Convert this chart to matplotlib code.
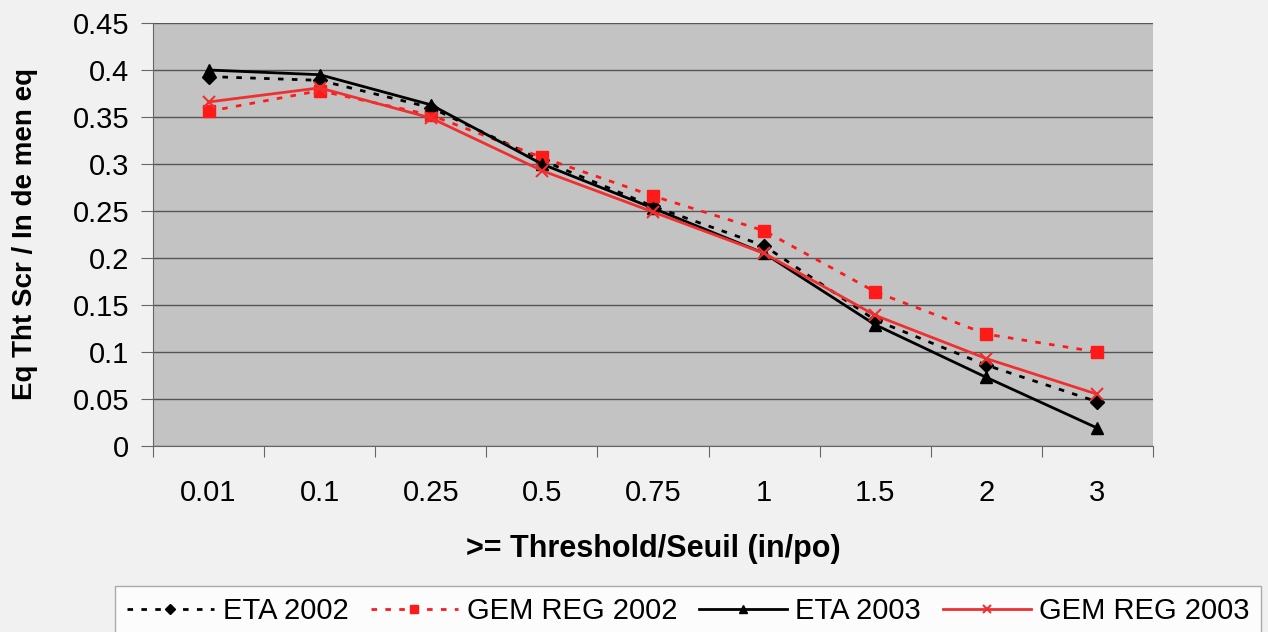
import matplotlib
matplotlib.use("Agg")
import matplotlib.pyplot as plt
import numpy as np

categories = ["0.01", "0.1", "0.25", "0.5", "0.75", "1", "1.5", "2", "3"]
eta_2002 = [0.393, 0.389, 0.360, 0.304, 0.255, 0.213, 0.134, 0.086, 0.047]
gem_2002 = [0.356, 0.378, 0.352, 0.307, 0.266, 0.229, 0.164, 0.119, 0.100]
eta_2003 = [0.400, 0.395, 0.363, 0.300, 0.253, 0.205, 0.129, 0.073, 0.019]
gem_2003 = [0.366, 0.381, 0.349, 0.293, 0.249, 0.205, 0.139, 0.093, 0.055]
y_ticks = [0, 0.05, 0.1, 0.15, 0.2, 0.25, 0.3, 0.35, 0.4, 0.45]
y_tick_labels = ["0", "0.05", "0.1", "0.15", "0.2", "0.25", "0.3", "0.35", "0.4", "0.45"]

plt.rcParams['font.family'] = ['Liberation Sans', 'DejaVu Sans']

fig = plt.figure(figsize=(12.68, 6.32), dpi=100, facecolor="#f1f1f1")
ax = fig.add_axes([153/1268, 1 - 446/632, 1000/1268, (446-23)/632])
ax.set_facecolor("#c3c3c3")

x = np.arange(len(categories))
ax.plot(x, eta_2002, color="black", linestyle=(0, (2, 3)), linewidth=2,
        marker="D", markersize=7, label="ETA 2002", zorder=4)
ax.plot(x, gem_2002, color="#ff1a1a", linestyle=(0, (2, 3)), linewidth=2,
        marker="s", markersize=9, label="GEM REG 2002", zorder=4)
ax.plot(x, eta_2003, color="black", linestyle="-", linewidth=2,
        marker="^", markersize=8, label="ETA 2003", zorder=5)
ax.plot(x, gem_2003, color="#f03030", linestyle="-", linewidth=2,
        marker="x", markersize=8, markeredgewidth=1.5, label="GEM REG 2003", zorder=5)

ax.set_xlim(-0.5, len(categories) - 0.5)
ax.set_ylim(0, 0.45)
ax.set_yticks(y_ticks)
ax.set_yticklabels(y_tick_labels, fontsize=21)
ax.yaxis.grid(True, color="#555555", linewidth=1)
ax.set_axisbelow(True)

ax.set_xticks(np.arange(len(categories) + 1) - 0.5)
ax.set_xticklabels([])
ax.set_xticks(x, minor=True)
ax.set_xticklabels(categories, minor=True, fontsize=21)
ax.tick_params(axis="x", which="minor", length=0, pad=24)
ax.tick_params(axis="x", which="major", length=8, direction="out", color="#666666")
ax.tick_params(axis="y", length=9, direction="out", color="#666666", pad=8)

for s in ["top", "right"]:
    ax.spines[s].set_visible(False)
for s in ["left", "bottom"]:
    ax.spines[s].set_color("#666666")

ax.set_xlabel(">= Threshold/Seuil (in/po)", fontsize=22, fontweight="bold", labelpad=19)
ax.set_ylabel("Eq Tht Scr / In de men eq", fontsize=20, fontweight="bold", labelpad=25)

leg = fig.legend(loc="lower left", bbox_to_anchor=(115/1268, -0.008), ncol=4,
                 fontsize=21, frameon=True, fancybox=False, edgecolor="#999999",
                 facecolor="white", handlelength=3.0, columnspacing=0.75,
                 handletextpad=0.3, borderpad=0.4, markerscale=0.7, borderaxespad=0)
leg.get_frame().set_linewidth(1)

fig.savefig("out.png", dpi=100, facecolor=fig.get_facecolor())
